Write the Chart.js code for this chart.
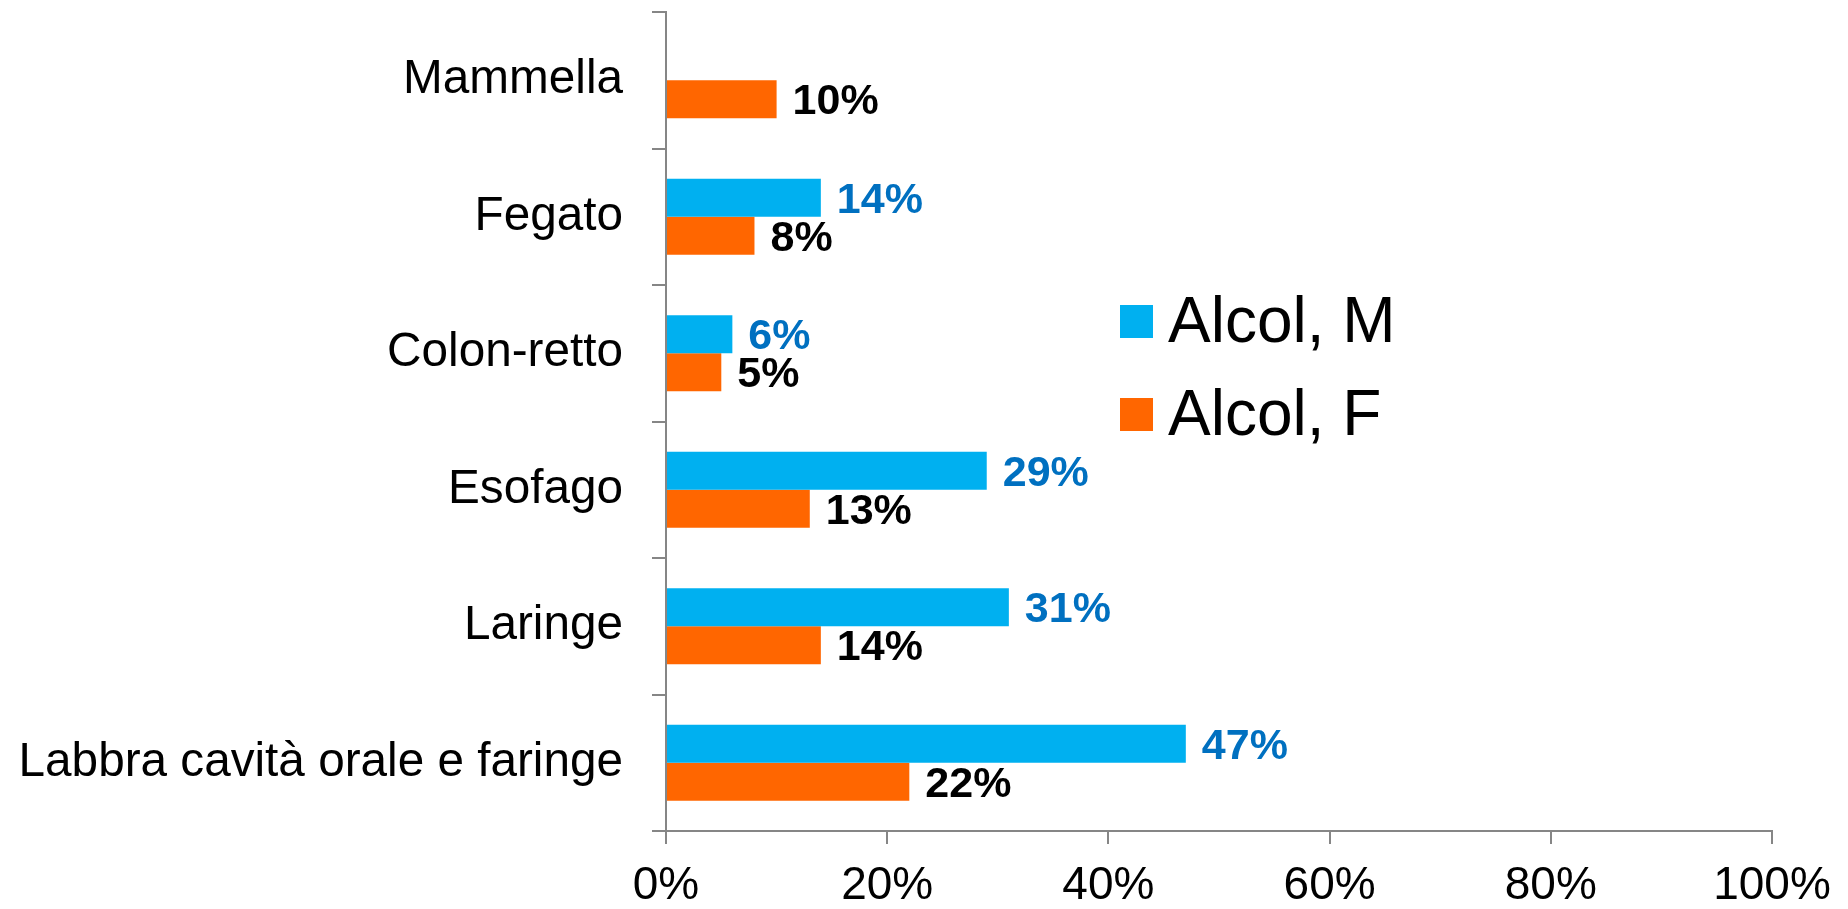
<!DOCTYPE html>
<html>
<head>
<meta charset="utf-8">
<script src="https://cdn.jsdelivr.net/npm/chart.js@4/dist/chart.umd.min.js"></script>
<style>
  html, body { margin: 0; padding: 0; background: #ffffff; }
  #wrap { width: 1848px; height: 909px; position: relative; }
</style>
</head>
<body>
<div id="wrap"><canvas id="c" width="1848" height="909"></canvas></div>
<script>
// ---- Data ----
const categories = ['Mammella', 'Fegato', 'Colon-retto', 'Esofago', 'Laringe', 'Labbra cavità orale e faringe'];
const seriesNames = ['Alcol, M', 'Alcol, F'];
const alcolM = [null, 14, 6, 29, 31, 47];
const alcolF = [10, 8, 5, 13, 14, 22];
const xTickValues = [0, 20, 40, 60, 80, 100];

// ---- Styles ----
const FONT = '"Liberation Sans", Arial, Helvetica, sans-serif';
const BLUE = '#00B0F0';
const ORANGE = '#FF6600';
const AXIS_GRAY = '#868686';
const labelColors = ['#0070C0', '#000000'];

const valueLabels = {
  id: 'valueLabels',
  afterDatasetsDraw(chart) {
    const ctx = chart.ctx;
    ctx.save();
    ctx.font = 'bold 43px ' + FONT;
    ctx.textAlign = 'left';
    ctx.textBaseline = 'middle';
    chart.data.datasets.forEach((ds, di) => {
      const meta = chart.getDatasetMeta(di);
      ctx.fillStyle = labelColors[di];
      meta.data.forEach((el, i) => {
        const v = ds.data[i];
        if (v === null || v === undefined) return;
        ctx.fillText(v + '%', el.x + 16, el.y + 3);
      });
    });
    ctx.restore();
  }
};

const customLegend = {
  id: 'customLegend',
  afterDraw(chart) {
    const ctx = chart.ctx;
    ctx.save();
    ctx.font = '64px ' + FONT;
    ctx.textAlign = 'left';
    ctx.textBaseline = 'alphabetic';
    const boxX = 1120, boxY0 = 305, box = 33, rowH = 93;
    chart.data.datasets.forEach((ds, i) => {
      const y = boxY0 + i * rowH;
      ctx.fillStyle = ds.backgroundColor;
      ctx.fillRect(boxX, y, box, box);
      ctx.fillStyle = '#000000';
      ctx.fillText(ds.label, boxX + 48, y + 37);
    });
    ctx.restore();
  }
};

new Chart(document.getElementById('c'), {
  type: 'bar',
  data: {
    labels: categories,
    datasets: [
      { label: seriesNames[0], data: alcolM, backgroundColor: BLUE, borderWidth: 0 },
      { label: seriesNames[1], data: alcolF, backgroundColor: ORANGE, borderWidth: 0 }
    ]
  },
  options: {
    indexAxis: 'y',
    responsive: false,
    animation: false,
    devicePixelRatio: 1,
    layout: { padding: { top: 12, right: 76, left: 0, bottom: 0 } },
    datasets: { bar: { categoryPercentage: 0.557, barPercentage: 1.0 } },
    plugins: {
      legend: { display: false },
      tooltip: { enabled: false }
    },
    scales: {
      x: {
        min: 0,
        max: 100,
        afterBuildTicks(scale) { scale.ticks = xTickValues.map(v => ({ value: v })); },
        afterFit(scale) { scale.height = 78; },
        ticks: {
          callback: v => v + '%',
          color: '#000000',
          font: { family: FONT, size: 46 },
          padding: 15,
          maxRotation: 0
        },
        grid: {
          drawOnChartArea: false,
          drawTicks: true,
          tickLength: 13,
          color: AXIS_GRAY,
          lineWidth: 2
        },
        border: { display: true, color: AXIS_GRAY, width: 2 }
      },
      y: {
        afterFit(scale) {
          scale.width = 666;
          scale.paddingTop = 0;
          scale.paddingBottom = 0;
        },
        ticks: {
          color: '#000000',
          font: { family: FONT, size: 47.7 },
          padding: 29
        },
        grid: {
          offset: true,
          drawOnChartArea: false,
          drawTicks: true,
          tickLength: 14,
          color: AXIS_GRAY,
          lineWidth: 2
        },
        border: { display: true, color: AXIS_GRAY, width: 2 }
      }
    }
  },
  plugins: [valueLabels, customLegend]
});
</script>
</body>
</html>
